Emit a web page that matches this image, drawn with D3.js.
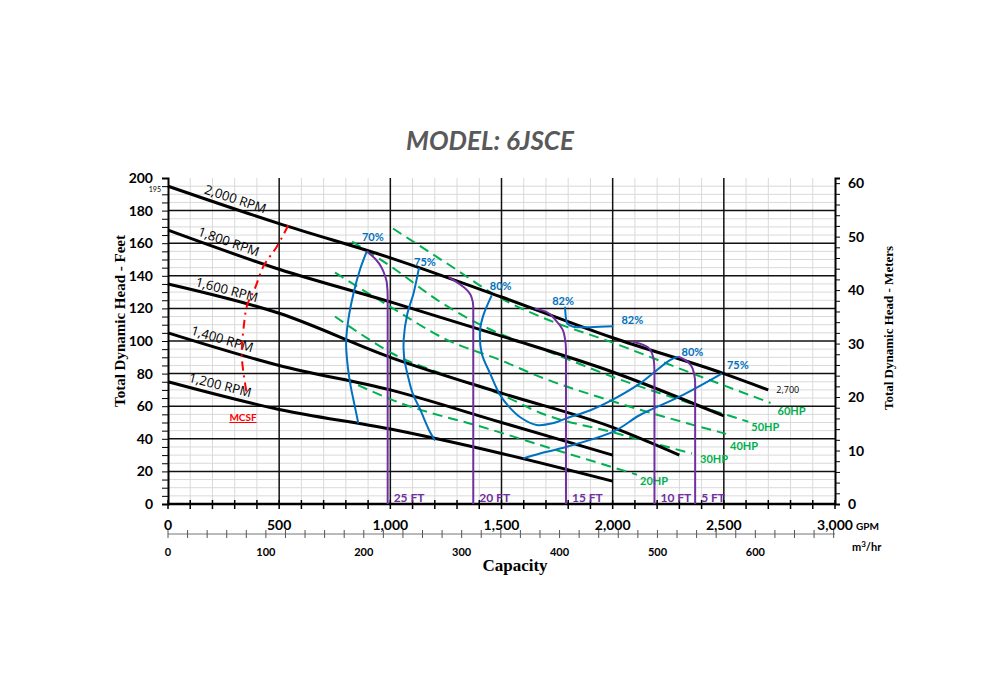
<!DOCTYPE html>
<meta charset="utf-8">
<style>
body { margin: 0; background: #fff; }
.tick text { font-family: Lato, "Open Sans", sans-serif; font-weight: bold; }
.rpm { fill: none; stroke: #000; stroke-width: 3px; }
.hp { fill: none; stroke: #00b050; stroke-width: 2px; stroke-dasharray: 10,6; }
.eff { fill: none; stroke: #0070c0; stroke-width: 2px; }
.npsh { fill: none; stroke: #7030a0; stroke-width: 2px; }
.mcsf { fill: none; stroke: #ff0000; stroke-width: 2px; stroke-dasharray: 9,5,2,5; }
</style>
<body>
<script src="https://d3js.org/d3.v7.min.js"></script>
<script>
/* ---- data: [GPM, feet] ---- */
var rpmLabels = ["2,000 RPM", "1,800 RPM", "1,600 RPM", "1,400 RPM", "1,200 RPM"];
var rpm2000 = [[0,195],[500,172],[1000,151],[1500,127],[2000,102],[2500,80],[2700,70]];
var rpm1800 = [[0,168],[500,144],[1000,124],[1500,103],[2000,81],[2500,54]];
var rpm1600 = [[0,135],[500,117],[1000,90],[1500,68],[2000,47],[2300,30]];
var rpm1400 = [[0,105],[500,85],[1000,70],[1500,50],[2000,30]];
var rpm1200 = [[0,75],[500,58],[1000,46],[1500,31],[2000,14]];

var hpLabels = ["60HP", "50HP", "40HP", "30HP", "20HP"];
var hp60 = [[1012,169],[1250,148],[1500,126],[1673,115],[2000,99],[2360,80],[2710,62]];
var hp50 = [[828,161],[1000,146],[1224,124],[1500,104],[1673,95.5],[2000,78],[2300,64],[2610,50.5]];
var hp40 = [[751,142],[1000,121],[1250,101],[1500,88],[1673,78],[2000,63],[2510,43]];
var hp30 = [[751,115],[870,104],[1000,93],[1250,79],[1500,67],[1673,56],[2000,44],[2357,31]];
var hp20 = [[789,77],[1044,62],[1434,46.4],[1749,33],[2110,18]];

var effLabels = ["70%", "75%", "80%", "82%", "75%"];
var eff70 = [[894,155],[864,144],[834,129],[811,113],[801,99],[808,85],[822,72],[834,64],[856,49.5]];
var eff75 = [[1129,145],[1104,129],[1077,117],[1060,101],[1062,90],[1080,78],[1100,68],[1134,58],[1179,44],[1201,39]];
var eff80 = [[1456,128],[1419,116],[1404,107],[1411,92.5],[1449,80],[1493,67],[1538,59],[1591,52.6],[1658,48.5],
             [1730,49.5],[1793,52.6],[1900,57.5],[2003,64.2],[2123,74],[2258,88.3],[2296,90.4]];
var eff82 = [[1786,121],[1790,114],[1797,110.5],[1823,108.8],[1900,108.5],[2003,109]];
var eff75b = [[1598,28],[1673,31],[1763,34],[2003,44.4],[2123,54.6],[2303,66],[2491,80]];
var effEndLabels = ["82%", "80%", "75%"];

var npshLabels = ["25 FT", "20 FT", "15 FT", "10 FT", "5 FT"];
var npsh25 = [[894,155],[935,150],[961,145],[976,140],[984,136],[988,127],[988,0]];
var npsh20 = [[1262,139],[1300,136],[1328,133.3],[1350,130.5],[1365,127],[1373,121],[1373,0]];
var npsh15 = [[1650,120],[1700,118],[1748,112],[1775,107],[1786,101],[1790,95],[1790,0]];
var npsh10 = [[2090,99.5],[2130,98],[2160,96],[2178,92],[2186,87],[2188,80],[2188,0]];
var npsh5 = [[2296,90.4],[2330,88],[2352,85],[2366,80],[2371,74],[2371,0]];

var mcsf = [[541,171],[490,158],[430,146],[390,132],[356,122],[340,108],[333,97],[332,90],[340,80],[350,71],[354,67]];

var gpmTicks = [0, 500, 1000, 1500, 2000, 2500, 3000];
var m3hrTicks = [0, 100, 200, 300, 400, 500, 600];
var feetTicks = [0, 20, 40, 60, 80, 100, 120, 140, 160, 180, 200];
var meterTicks = [0, 10, 20, 30, 40, 50, 60];

/* ---- scales ---- */
var x = d3.scaleLinear().domain([0, 3000]).range([168, 835]);
var y = d3.scaleLinear().domain([0, 200]).range([504, 178]);
var xM = d3.scaleLinear().domain([0, 3000 * 0.2271247]).range([168, 835]);
var yM = d3.scaleLinear().domain([0, 200 * 0.3048]).range([504, 178]);

var svg = d3.select("body").append("svg")
    .attr("width", 1000)
    .attr("height", 700);

// title
svg.append("text")
    .attr("x", 490).attr("y", 150)
    .attr("text-anchor", "middle")
    .style("font", "italic bold 26px Lato, sans-serif")
    .style("fill", "#595959")
    .text("MODEL: 6JSCE");

/* ---- grid ---- */
var grid = svg.append("g");
grid.selectAll("minorx")
    .data(d3.range(100, 3000, 100).filter(function(d) { return d % 500 != 0; }))
  .enter().append("line")
    .attr("x1", x).attr("x2", x)
    .attr("y1", y(0)).attr("y2", y(200))
    .style("stroke", "#d9d9d9").style("stroke-width", 1);
grid.selectAll("minory")
    .data(d3.range(5, 200, 5).filter(function(d) { return d % 20 != 0; }))
  .enter().append("line")
    .attr("x1", x(0)).attr("x2", x(3000))
    .attr("y1", y).attr("y2", y)
    .style("stroke", "#d9d9d9").style("stroke-width", 1);
grid.selectAll("majory")
    .data(feetTicks.slice(1, 10))
  .enter().append("line")
    .attr("x1", x(0)).attr("x2", x(3000))
    .attr("y1", y).attr("y2", y)
    .style("stroke", "#111").style("stroke-width", 1.5);
grid.selectAll("majorx")
    .data(gpmTicks.slice(1, 6))
  .enter().append("line")
    .attr("x1", x).attr("x2", x)
    .attr("y1", y(0)).attr("y2", y(200))
    .style("stroke", "#111").style("stroke-width", 1.5);

/* ---- axes ---- */
// left axis (feet)
var leftAxis = svg.append("g")
    .attr("transform", "translate(" + x(0) + ",0)")
    .call(d3.axisLeft(y).tickValues(d3.range(0, 201, 5)).tickSize(6).tickPadding(9)
      .tickFormat(function(d) { return d % 20 == 0 ? d : ""; }));
leftAxis.selectAll("text").style("font-size", "14px");
leftAxis.select(".domain").style("stroke-width", 2);

svg.append("text")
    .attr("x", 161).attr("y", y(195) + 6)
    .attr("text-anchor", "end")
    .style("font", "7px Lato, sans-serif")
    .text("195");

// right axis (meters)
var rightAxis = svg.append("g")
    .attr("transform", "translate(" + x(3000) + ",0)")
    .call(d3.axisRight(yM).tickValues(d3.range(0, 61, 2)).tickSize(5).tickPadding(8)
      .tickFormat(function(d) { return meterTicks.indexOf(d) >= 0 ? d : ""; }));
rightAxis.selectAll("text").style("font-size", "14px");
rightAxis.select(".domain").style("stroke-width", 2);

// bottom axis (GPM) - ticks cross the line
var bottom = svg.append("g");
bottom.append("line")
    .attr("x1", x(0)).attr("x2", x(3000))
    .attr("y1", y(0)).attr("y2", y(0))
    .style("stroke", "#000").style("stroke-width", 2.5);
bottom.selectAll("tk")
    .data(d3.range(0, 3001, 100))
  .enter().append("line")
    .attr("x1", x).attr("x2", x)
    .attr("y1", y(0) - 4).attr("y2", y(0) + 5)
    .style("stroke", "#000").style("stroke-width", 1.5);
bottom.selectAll("lbl")
    .data(gpmTicks)
  .enter().append("text")
    .attr("x", x).attr("y", 530)
    .attr("text-anchor", "middle")
    .style("font", "bold 14px Lato, sans-serif")
    .text(function(d) { return d3.format(",")(d); });
svg.append("text")
    .attr("x", 856).attr("y", 530)
    .style("font", "bold 10px Lato, sans-serif")
    .text("GPM");

// second bottom axis (m3/hr)
var mAxis = svg.append("g");
mAxis.append("line")
    .attr("x1", x(0)).attr("x2", x(3000))
    .attr("y1", 534).attr("y2", 534)
    .style("stroke", "#777").style("stroke-width", 1.2);
mAxis.selectAll("tk")
    .data(d3.range(0, 681, 20))
  .enter().append("line")
    .attr("x1", xM).attr("x2", xM)
    .attr("y1", 530).attr("y2", 538)
    .style("stroke", "#555").style("stroke-width", 1);
mAxis.selectAll("lbl")
    .data(m3hrTicks)
  .enter().append("text")
    .attr("x", xM).attr("y", 556)
    .attr("text-anchor", "middle")
    .style("font", "bold 11px Lato, sans-serif")
    .text(function(d) { return d; });
svg.append("text")
    .attr("x", 852).attr("y", 551)
    .style("font", "bold 11px Lato, sans-serif")
    .html("m<tspan dy='-4' font-size='8'>3</tspan><tspan dy='4'>/hr</tspan>");

// axis titles
svg.append("text")
    .attr("transform", "translate(125,321) rotate(-90)")
    .attr("text-anchor", "middle")
    .style("font", "bold 15px 'Liberation Serif', serif")
    .text("Total Dynamic Head - Feet");
svg.append("text")
    .attr("transform", "translate(893,328) rotate(-90)")
    .attr("text-anchor", "middle")
    .style("font", "bold 13px 'Liberation Serif', serif")
    .text("Total Dynamic Head - Meters");
svg.append("text")
    .attr("x", 515).attr("y", 571)
    .attr("text-anchor", "middle")
    .style("font", "bold 17px 'Liberation Serif', serif")
    .text("Capacity");

/* ---- curves ---- */
var lineX = d3.line().x(function(d) { return x(d[0]); }).y(function(d) { return y(d[1]); })
    .curve(d3.curveMonotoneX);
var lineY = d3.line().x(function(d) { return x(d[0]); }).y(function(d) { return y(d[1]); })
    .curve(d3.curveMonotoneY);
var lineC = d3.line().x(function(d) { return x(d[0]); }).y(function(d) { return y(d[1]); })
    .curve(d3.curveCatmullRom.alpha(0.5));

// HP lines
var hpSeries = [hp60, hp50, hp40, hp30, hp20];
var hpOffsets = [[7,12],[3,9],[4,16],[8,10],[3,10]];
svg.selectAll("hp")
    .data(hpSeries)
  .enter().append("path")
    .attr("class", "hp")
    .attr("d", lineX);
svg.selectAll("hpl")
    .data(hpSeries)
  .enter().append("text")
    .attr("x", function(d, i) { return x(d[d.length - 1][0]) + hpOffsets[i][0]; })
    .attr("y", function(d, i) { return y(d[d.length - 1][1]) + hpOffsets[i][1]; })
    .style("font", "bold 11px Lato, sans-serif")
    .style("fill", "#00b050")
    .text(function(d, i) { return hpLabels[i]; });

// pump speed curves
var rpmSeries = [rpm2000, rpm1800, rpm1600, rpm1400, rpm1200];
var rpmLabelAt = [160, 130, 120, 100, 90];
svg.selectAll("rpm")
    .data(rpmSeries)
  .enter().append("path")
    .attr("class", "rpm")
    .attr("d", lineX);
rpmSeries.forEach(function(s, i) {
  var g0 = rpmLabelAt[i];
  var slope = (y(s[1][1]) - y(s[0][1])) / (x(s[1][0]) - x(s[0][0]));
  var yy = y(s[0][1]) + (x(g0) - x(0)) * slope;
  var ang = Math.atan(slope) * 180 / Math.PI;
  svg.append("text")
      .attr("transform", "translate(" + x(g0) + "," + (yy - 5) + ") rotate(" + ang + ")")
      .style("font", "13px 'Open Sans', sans-serif")
      .text(rpmLabels[i]);
});
svg.append("text")
    .attr("x", x(2700) + 8).attr("y", y(70) + 3)
    .style("font", "9px 'Open Sans', sans-serif")
    .text("2,700");

// efficiency curves
var effSeries = [eff70, eff75, eff80, eff82, eff75b];
svg.selectAll("eff")
    .data(effSeries)
  .enter().append("path")
    .attr("class", "eff")
    .attr("d", lineC);
var effOffsets = [[6,-14],[6,-6],[9,-9],[-2,-6]];
[eff70, eff75, eff80, eff82].forEach(function(s, i) {
  svg.append("text")
      .attr("x", x(s[0][0]) + effOffsets[i][0])
      .attr("y", y(s[0][1]) + effOffsets[i][1] + 4)
      .attr("text-anchor", "middle")
      .style("font", "bold 11px Lato, sans-serif")
      .style("fill", "#0070c0")
      .text(effLabels[i]);
});
var endOffsets = [[19,-6],[14,-5],[16,-9]];
[eff82, eff80, eff75b].forEach(function(s, i) {
  var p = s[s.length - 1];
  svg.append("text")
      .attr("x", x(p[0]) + endOffsets[i][0])
      .attr("y", y(p[1]) + endOffsets[i][1] + 4)
      .attr("text-anchor", "middle")
      .style("font", "bold 11px Lato, sans-serif")
      .style("fill", "#0070c0")
      .text(effEndLabels[i]);
});

// NPSH required curves
var npshSeries = [npsh25, npsh20, npsh15, npsh10, npsh5];
svg.selectAll("npsh")
    .data(npshSeries)
  .enter().append("path")
    .attr("class", "npsh")
    .attr("d", lineY);
svg.selectAll("npshl")
    .data(npshSeries)
  .enter().append("text")
    .attr("x", function(d) { return x(d[d.length - 1][0]) + 6; })
    .attr("y", 502)
    .style("font", "bold 12px Lato, sans-serif")
    .style("fill", "#7030a0")
    .text(function(d, i) { return npshLabels[i]; });

// MCSF
svg.append("path")
    .datum(mcsf)
    .attr("class", "mcsf")
    .attr("d", lineC);
svg.append("text")
    .attr("x", 243).attr("y", 421)
    .attr("text-anchor", "middle")
    .style("font", "bold 10px Lato, sans-serif")
    .style("fill", "#ff0000")
    .style("text-decoration", "underline")
    .text("MCSF");
</script>
</body>
